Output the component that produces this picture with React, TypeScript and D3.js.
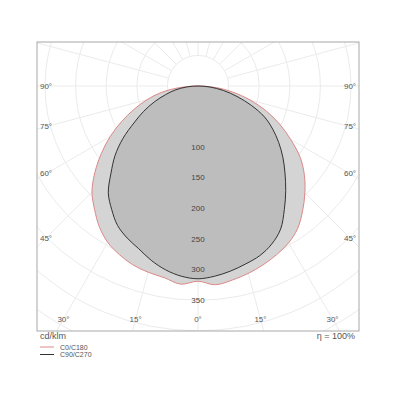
import * as d3 from "d3";
import { useEffect, useRef } from "react";

// gamma angles (deg from nadir), 5 deg steps
const angles = [0, 5, 10, 15, 20, 25, 30, 35, 40, 45, 50, 55, 60, 65, 70, 75, 80, 85, 90];
// cd/klm
const c0 = [320, 326, 322, 317, 311, 304, 296, 284, 266, 247, 227, 204, 175, 147, 118, 88, 58, 30, 0];
const c180 = [319, 325, 318, 315, 311, 304, 295, 281, 263, 245, 220, 193, 166, 138, 111, 86, 61, 30, 0];
const c90 = [314, 312, 307, 301, 295, 285, 270, 246, 223, 201, 181, 161, 141, 120, 93, 66, 42, 20, 0];
const c270 = [315, 312, 305, 295, 283, 274, 263, 246, 228, 201, 177, 150, 121, 98, 76, 55, 38, 19, 0];

const ringLabels = [100, 150, 200, 250, 300, 350];
const sideLabels = [90, 75, 60, 45];
const bottomLabels = [-30, -15, 0, 15, 30];

const App = () => {
  const ref = useRef(null);

  useEffect(() => {
    const svg = d3.select(ref.current);
    svg.selectAll("*").remove();

    const frame = { left: 37, right: 359, top: 42, bottom: 331 };
    const cx = 198,
      cy = 86;
    const r = d3.scaleLinear().domain([0, 350]).range([0, 214.2]);
    const font = "'Liberation Sans', Arial, sans-serif";

    svg
      .append("defs")
      .append("clipPath")
      .attr("id", "frameClip")
      .append("rect")
      .attr("x", frame.left)
      .attr("y", frame.top)
      .attr("width", frame.right - frame.left)
      .attr("height", frame.bottom - frame.top);

    const grid = svg.append("g").attr("clip-path", "url(#frameClip)");

    // rings every 50 cd/klm
    grid
      .selectAll("circle")
      .data(d3.range(50, 601, 50))
      .join("circle")
      .attr("cx", cx)
      .attr("cy", cy)
      .attr("r", (d) => r(d))
      .attr("fill", "none")
      .attr("stroke", "#ebebeb")
      .attr("stroke-width", 1);

    // spokes every 15 deg, starting at the 50 ring
    grid
      .selectAll("line")
      .data(d3.range(0, 360, 15))
      .join("line")
      .attr("x1", (d) => cx + r(50) * Math.sin((d * Math.PI) / 180))
      .attr("y1", (d) => cy + r(50) * Math.cos((d * Math.PI) / 180))
      .attr("x2", (d) => cx + r(700) * Math.sin((d * Math.PI) / 180))
      .attr("y2", (d) => cy + r(700) * Math.cos((d * Math.PI) / 180))
      .attr("stroke", "#ebebeb")
      .attr("stroke-width", 1);

    // polar curves: left half (C180 / C270) from 90 down to 0, right half (C0 / C90) back up
    const radial = d3
      .lineRadial()
      .angle((d) => d[0])
      .radius((d) => r(d[1]))
      .curve(d3.curveCatmullRomClosed.alpha(0.5));

    const outline = (left, right) => {
      const pts = [];
      for (let i = angles.length - 1; i >= 0; i--) pts.push([Math.PI + (angles[i] * Math.PI) / 180, left[i]]);
      for (let i = 1; i < angles.length - 1; i++) pts.push([Math.PI - (angles[i] * Math.PI) / 180, right[i]]);
      return radial(pts);
    };

    const curves = svg.append("g").attr("transform", `translate(${cx},${cy})`);
    curves.append("path").attr("d", outline(c180, c0)).attr("fill", "#d4d4d4").attr("stroke", "none");
    curves.append("path").attr("d", outline(c270, c90)).attr("fill", "#bdbdbd").attr("stroke", "none");
    curves
      .append("path")
      .attr("d", outline(c180, c0))
      .attr("fill", "none")
      .attr("stroke", "#dd8888")
      .attr("stroke-width", 1);
    curves
      .append("path")
      .attr("d", outline(c270, c90))
      .attr("fill", "none")
      .attr("stroke", "#333")
      .attr("stroke-width", 1);

    // frame
    svg
      .append("rect")
      .attr("x", frame.left)
      .attr("y", frame.top)
      .attr("width", frame.right - frame.left)
      .attr("height", frame.bottom - frame.top)
      .attr("fill", "none")
      .attr("stroke", "#a8a8a8")
      .attr("stroke-width", 1);

    // ring values along the nadir
    svg
      .selectAll(".ring")
      .data(ringLabels)
      .join("text")
      .attr("x", cx)
      .attr("y", (d) => cy + r(d))
      .attr("text-anchor", "middle")
      .attr("dominant-baseline", "central")
      .style("font-family", font)
      .style("font-size", "8px")
      .attr("fill", "#444")
      .text((d) => d);

    // angle labels where spokes meet the inset frame
    const inset = { left: 46, right: 350, bottom: 319 };
    const labelPos = (deg) => {
      const a = (deg * Math.PI) / 180;
      const sx = Math.sin(a),
        sy = Math.cos(a);
      let t = Infinity;
      if (sx > 1e-6) t = Math.min(t, (inset.right - cx) / sx);
      if (sx < -1e-6) t = Math.min(t, (inset.left - cx) / sx);
      if (sy > 1e-6) t = Math.min(t, (inset.bottom - cy) / sy);
      return [cx + t * sx, cy + t * sy];
    };
    const angleLabels = [
      ...sideLabels.map((d) => -d),
      ...bottomLabels,
      ...sideLabels,
    ];
    svg
      .selectAll(".ang")
      .data(angleLabels)
      .join("text")
      .attr("x", (d) => labelPos(d)[0])
      .attr("y", (d) => labelPos(d)[1])
      .attr("text-anchor", "middle")
      .attr("dominant-baseline", "central")
      .style("font-family", font)
      .style("font-size", "8px")
      .attr("fill", "#555")
      .text((d) => `${Math.abs(d)}°`);

    // units and efficiency
    svg
      .append("text")
      .attr("x", 40)
      .attr("y", 336)
      .attr("dominant-baseline", "central")
      .style("font-family", font)
      .style("font-size", "9px")
      .attr("fill", "#555")
      .text("cd/klm");
    svg
      .append("text")
      .attr("x", 355)
      .attr("y", 336)
      .attr("text-anchor", "end")
      .attr("dominant-baseline", "central")
      .style("font-family", font)
      .style("font-size", "9px")
      .attr("fill", "#555")
      .text("η = 100%");

    // legend
    const legend = [
      { name: "C0/C180", color: "#dd8888" },
      { name: "C90/C270", color: "#333" },
    ];
    const lg = svg
      .selectAll(".lg")
      .data(legend)
      .join("g")
      .attr("transform", (d, i) => `translate(40,${347 + i * 7.5})`);
    lg.append("line").attr("x1", 0).attr("x2", 14).attr("stroke", (d) => d.color).attr("stroke-width", 1);
    lg
      .append("text")
      .attr("x", 20)
      .attr("dominant-baseline", "central")
      .style("font-family", font)
      .style("font-size", "7px")
      .attr("fill", "#555")
      .text((d) => d.name);
  });

  return (
    <svg
      width={400}
      height={400}
      ref={ref}
      style={{ position: "absolute", left: 0, top: 0, background: "#fff" }}
    />
  );
};

export default App;
